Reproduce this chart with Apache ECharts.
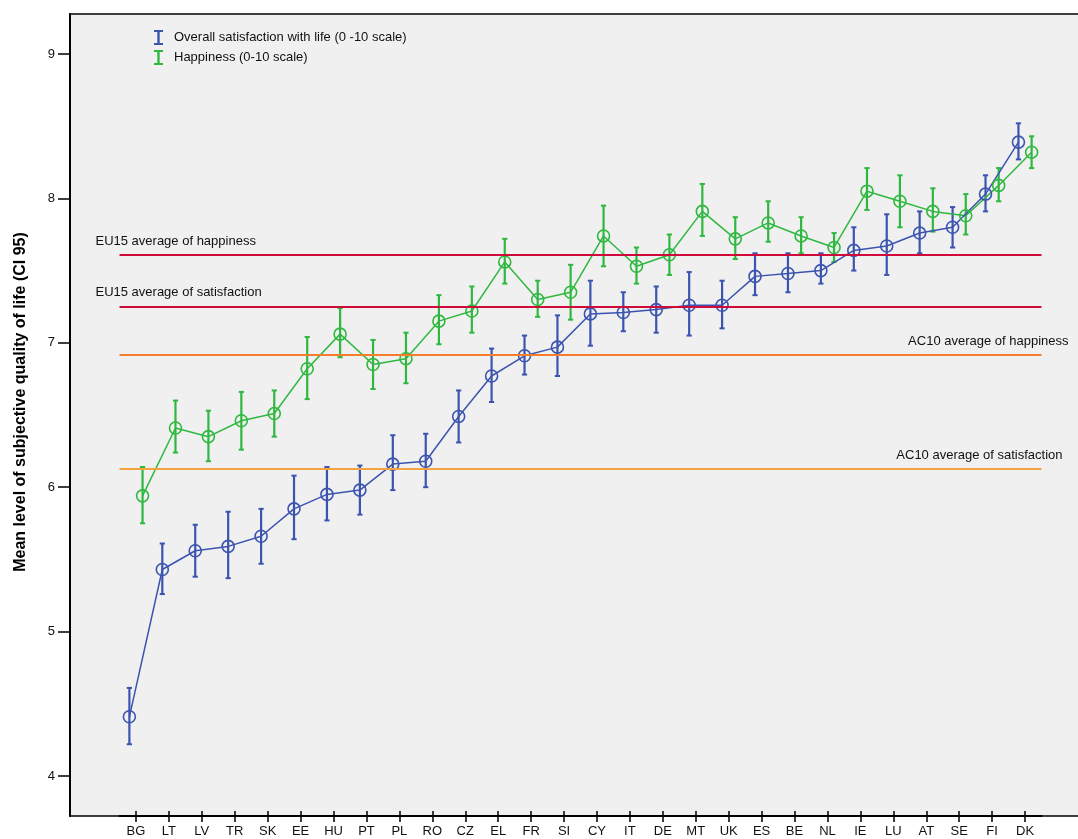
<!DOCTYPE html>
<html>
<head>
<meta charset="utf-8">
<script src="https://cdn.jsdelivr.net/npm/echarts@6/dist/echarts.min.js"></script>
<style>
  html, body { margin: 0; padding: 0; background: #ffffff; }
  #chart { width: 1078px; height: 839px; }
</style>
</head>
<body>
<div id="chart"></div>
<script>
// Countries ordered by mean life satisfaction
const countries = ['BG','LT','LV','TR','SK','EE','HU','PT','PL','RO','CZ','EL','FR','SI','CY','IT','DE','MT','UK','ES','BE','NL','IE','LU','AT','SE','FI','DK'];

// Overall satisfaction with life: mean and 95% confidence interval
const satisfactionMean = [4.41,5.43,5.56,5.59,5.66,5.85,5.95,5.98,6.16,6.18,6.49,6.77,6.91,6.97,7.20,7.21,7.23,7.26,7.26,7.46,7.48,7.50,7.64,7.67,7.76,7.80,8.03,8.39];
const satisfactionLow  = [4.22,5.26,5.38,5.37,5.47,5.64,5.77,5.81,5.98,6.00,6.31,6.59,6.78,6.77,6.98,7.08,7.07,7.05,7.10,7.33,7.35,7.41,7.50,7.47,7.62,7.66,7.91,8.27];
const satisfactionHigh = [4.61,5.61,5.74,5.83,5.85,6.08,6.14,6.15,6.36,6.37,6.67,6.96,7.05,7.19,7.43,7.35,7.39,7.49,7.43,7.62,7.62,7.62,7.80,7.89,7.91,7.94,8.16,8.52];

// Happiness: mean and 95% confidence interval
const happinessMean = [5.94,6.41,6.35,6.46,6.51,6.82,7.06,6.85,6.89,7.15,7.22,7.56,7.30,7.35,7.74,7.53,7.61,7.91,7.72,7.83,7.74,7.66,8.05,7.98,7.91,7.88,8.09,8.32];
const happinessLow     = [5.75,6.24,6.18,6.26,6.35,6.61,6.90,6.68,6.72,6.99,7.07,7.41,7.18,7.16,7.53,7.41,7.47,7.74,7.58,7.70,7.62,7.56,7.92,7.80,7.77,7.75,7.98,8.21];
const happinessHigh    = [6.14,6.60,6.53,6.66,6.67,7.04,7.24,7.02,7.07,7.33,7.39,7.72,7.43,7.54,7.95,7.66,7.75,8.10,7.87,7.98,7.87,7.76,8.21,8.16,8.07,8.03,8.21,8.43];

// Group averages drawn as horizontal reference lines
const referenceNames  = ['EU15 average of happiness','EU15 average of satisfaction','AC10 average of happiness','AC10 average of satisfaction'];
const referenceValues = [7.608, 7.252, 6.918, 6.127];

// Y axis tick labels
const yTicks = [4, 5, 6, 7, 8, 9];

const seriesNames = ['Overall satisfaction with life (0 -10 scale)', 'Happiness (0-10 scale)'];

// ---- styling ----
const BLUE = '#3b54b0';
const GREEN = '#2fb840';
const refColors = ['#d10a3c', '#d10a3c', '#f57d2b', '#f5a340'];
const refLabelSide = ['left', 'left', 'right', 'right'];
const FONT = '"Liberation Sans", Arial, sans-serif';
const clusterOffset = 0.2;   // horizontal shift of each series inside its category
const errorIcon = 'path://M0,0H9V2H5.7V13H9V15H0V13H3.3V2H0Z';

const chart = echarts.init(document.getElementById('chart'), null, { renderer: 'canvas' });

function points(means, shift) {
  return means.map((v, i) => [i + shift, v]);
}
function intervals(low, high, shift) {
  return low.map((lo, i) => [i + shift, lo, high[i]]);
}

function errorBarRender(color) {
  return function (params, api) {
    const x = api.value(0);
    const lo = api.coord([x, api.value(1)]);
    const hi = api.coord([x, api.value(2)]);
    const cap = 2.6;
    const style = { stroke: color, lineWidth: 2.2 };
    return {
      type: 'group',
      children: [
        { type: 'line', shape: { x1: lo[0], y1: lo[1], x2: hi[0], y2: hi[1] }, style },
        { type: 'line', shape: { x1: hi[0] - cap, y1: hi[1], x2: hi[0] + cap, y2: hi[1] }, style: { stroke: color, lineWidth: 2 } },
        { type: 'line', shape: { x1: lo[0] - cap, y1: lo[1], x2: lo[0] + cap, y2: lo[1] }, style: { stroke: color, lineWidth: 2 } }
      ]
    };
  };
}

function meanLine(name, means, shift, color, extra) {
  return Object.assign({
    name: name,
    type: 'line',
    xAxisIndex: 2,
    data: points(means, shift),
    symbol: 'circle',
    symbolSize: 12,
    lineStyle: { color: color, width: 1.5 },
    itemStyle: { color: 'rgba(0,0,0,0)', borderColor: color, borderWidth: 1.6 },
    z: 4
  }, extra || {});
}

const option = {
  animation: false,
  backgroundColor: '#ffffff',
  textStyle: { fontFamily: FONT },
  grid: { left: 119.5, right: 36.5, top: 14, bottom: 23, containLabel: false },
  legend: {
    orient: 'vertical',
    left: 149,
    top: 25,
    itemWidth: 21,
    itemHeight: 15,
    itemGap: 5,
    selectedMode: false,
    textStyle: { fontSize: 13, color: '#111', fontFamily: FONT },
    data: [
      { name: seriesNames[0], icon: errorIcon, itemStyle: { color: BLUE, borderWidth: 0 } },
      { name: seriesNames[1], icon: errorIcon, itemStyle: { color: GREEN, borderWidth: 0 } }
    ]
  },
  xAxis: [
    {
      type: 'category',
      data: countries,
      boundaryGap: true,
      z: 5,
      axisLine: { show: true, onZero: false, lineStyle: { color: '#000', width: 2 } },
      axisTick: { show: true, interval: 0, alignWithLabel: true, length: 6, lineStyle: { color: '#000', width: 1.5 } },
      axisLabel: { show: true, margin: 9, fontSize: 13, color: '#111', fontFamily: FONT, interval: 0 },
      splitLine: { show: false }
    },
    {
      type: 'category',
      data: countries,
      boundaryGap: true,
      position: 'bottom',
      z: 5,
      axisLine: { show: false, onZero: false },
      axisTick: { show: true, interval: 0, inside: true, alignWithLabel: true, length: 5, lineStyle: { color: '#000', width: 1.5 } },
      axisLabel: { show: false },
      splitLine: { show: false }
    },
    {
      type: 'value',
      min: -0.5,
      max: countries.length - 0.5,
      show: false
    }
  ],
  yAxis: {
    type: 'value',
    min: 3.723,
    max: 9.277,
    offset: 49.5,
    z: 5,
    axisLine: { show: true, onZero: false, lineStyle: { color: '#000', width: 2 } },
    axisTick: { show: true, length: 12, customValues: yTicks, lineStyle: { color: '#000', width: 1.5 } },
    axisLabel: { show: true, margin: 15, fontSize: 13, color: '#111', fontFamily: FONT, customValues: yTicks, showMinLabel: true, showMaxLabel: true },
    splitLine: { show: false }
  },
  graphic: [
    {
      type: 'rect',
      z: -10,
      silent: true,
      shape: { x: 70, y: 14, width: 1040, height: 802 },
      style: { fill: '#f0f0f0', stroke: '#000', lineWidth: 1.5 }
    },
    {
      type: 'text',
      silent: true,
      x: 21,
      y: 402,
      rotation: Math.PI / 2,
      style: {
        text: 'Mean level of subjective quality of life (CI 95)',
        font: 'bold 16px ' + FONT,
        fill: '#000',
        align: 'center',
        verticalAlign: 'middle'
      }
    }
  ],
  series: [
    {
      name: seriesNames[0],
      type: 'custom',
      xAxisIndex: 2,
      renderItem: errorBarRender(BLUE),
      itemStyle: { color: BLUE },
      data: intervals(satisfactionLow, satisfactionHigh, -clusterOffset),
      z: 3
    },
    {
      name: seriesNames[1],
      type: 'custom',
      xAxisIndex: 2,
      renderItem: errorBarRender(GREEN),
      itemStyle: { color: GREEN },
      data: intervals(happinessLow, happinessHigh, clusterOffset),
      z: 3
    },
    meanLine(seriesNames[1], happinessMean, clusterOffset, GREEN),
    meanLine(seriesNames[0], satisfactionMean, -clusterOffset, BLUE, {
      markLine: {
        silent: true,
        symbol: ['none', 'none'],
        label: { show: false },
        data: referenceValues.map((v, i) => ({ yAxis: v, lineStyle: { color: refColors[i], width: 2, type: 'solid' } }))
      }
    })
  ]
};

chart.setOption(option);

// Reference-line captions, positioned from the axis scales
const gridLeft = chart.convertToPixel({ xAxisIndex: 0 }, countries[0]) - 16.5;
const gridRight = chart.convertToPixel({ xAxisIndex: 0 }, countries[countries.length - 1]) + 16.5;
const captions = referenceNames.map((name, i) => {
  const y = chart.convertToPixel({ yAxisIndex: 0 }, referenceValues[i]);
  const left = refLabelSide[i] === 'left';
  return {
    type: 'text',
    silent: true,
    x: left ? gridLeft - 24 : gridRight + (i === 2 ? 27 : 21),
    y: y - 13.5,
    style: {
      text: name,
      font: '13px ' + FONT,
      fill: '#111',
      align: left ? 'left' : 'right',
      verticalAlign: 'middle'
    }
  };
});
chart.setOption({ graphic: option.graphic.concat(captions) });
</script>
</body>
</html>
